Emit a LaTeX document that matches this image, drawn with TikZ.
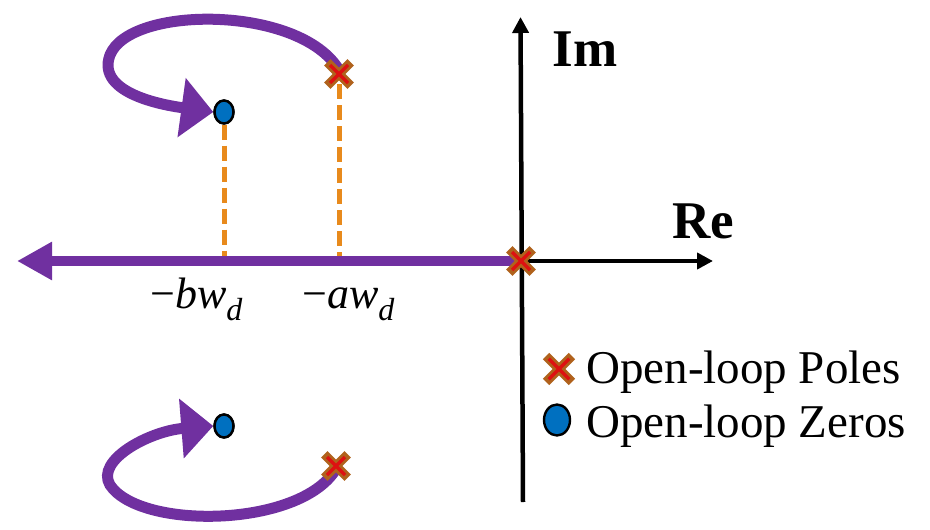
\documentclass[tikz,border=0pt]{standalone}
\usepackage{fontspec}
\setmainfont{Liberation Serif}
\usetikzlibrary{arrows.meta,shapes.geometric}
\definecolor{rlpurple}{HTML}{7030A0}
\definecolor{rlorange}{HTML}{E88A1C}
\definecolor{rlblue}{HTML}{0070C0}
\definecolor{xbrown}{HTML}{B0621C}
\definecolor{xred}{HTML}{DD1111}
\tikzset{
  polemark/.pic={
    \draw[xbrown, line width=9pt, line cap=rect] (-8.5,-8.5)--(8.5,8.5) (-8.5,8.5)--(8.5,-8.5);
    \draw[xred, line width=3.4pt] (-9,-9)--(9,9) (-9,9)--(9,-9);
  },
  zeromark/.style={ellipse, draw=black, fill=rlblue, line width=2.4pt, minimum width=19pt, minimum height=23pt, inner sep=0pt},
  axis/.style={black, line width=4.5pt, -{Triangle[length=16pt,width=16pt]}},
  locus/.style={rlpurple, line width=11pt, -{Triangle[length=32pt,width=58pt]}},
  dashline/.style={rlorange, line width=5pt, dash pattern=on 15pt off 6pt},
  bigtxt/.style={font=\fontsize{47}{47}\selectfont, inner sep=0pt},
  lbltxt/.style={font=\fontsize{44}{44}\selectfont, inner sep=0pt},
  axlbl/.style={font=\bfseries\fontsize{53}{53}\selectfont, inner sep=0pt},
}
\begin{document}
\begin{tikzpicture}[x=1pt,y=-1pt]
\useasboundingbox (0,0) rectangle (930,530);
% coordinates
\coordinate (o) at (521,261);
\coordinate (p1) at (339,74);
\coordinate (p2) at (336,466);
\coordinate (imtop) at (520.5,17);
\coordinate (imbot) at (523,502);
\coordinate (retip) at (713,261);
\coordinate (releft) at (17,261);
\coordinate (d1) at (224,261);
\coordinate (d2) at (339,261);
% axes
\draw[axis] (imbot) -- (imtop);
\draw[axis] (o) -- (retip);
% zeros
\node[zeromark] (z1) at (224,112) {};
\node[zeromark] (z2) at (224,426) {};
% dashed projections
\draw[dashline] (z1.south) -- (d1);
\draw[dashline] (p1) ++(0,10) -- (d2);
% loci
\draw[rlpurple, line width=10pt, -{Triangle[length=35pt,width=36pt]}] (o) -- (releft);
\draw[locus] (p1) ++(0,-4) .. controls (300,5) and (130,5) .. (110,55)
   .. controls (95,95) and (170,106) .. (z1.west);
\draw[locus] (p2) ++(0,3) .. controls (300,528) and (140,530) .. (110,485)
   .. controls (95,460) and (150,431) .. (z2.west);
% re-draw zeros on top
\node[zeromark] at (z1) {};
\node[zeromark] at (z2) {};
% poles
\pic at (p1) {polemark};
\pic at (p2) {polemark};
\pic at (o) {polemark};
% axis labels
\node[axlbl, anchor=base] (imlbl) at (585,66) {Im};
\node[axlbl, anchor=base] (relbl) at (703,238) {Re};
% tick labels
\node[lbltxt, anchor=base west] (lb) at (150,308) {−\textit{bw}\raisebox{-12pt}{\fontsize{32}{32}\selectfont\textit{d}}};
\node[lbltxt, anchor=base west] (la) at (302,308) {−\textit{aw}\raisebox{-12pt}{\fontsize{32}{32}\selectfont\textit{d}}};
% legend
\pic[scale=1.15] at (559,369) {polemark};
\node[zeromark, minimum width=26pt, minimum height=31pt] (lz) at (557,420) {};
\node[bigtxt, anchor=base west] (lp) at (586,383) {Open-loop Poles};
\node[bigtxt, anchor=base west] (lzt) at (586,437) {Open-loop Zeros};
\end{tikzpicture}
\end{document}
